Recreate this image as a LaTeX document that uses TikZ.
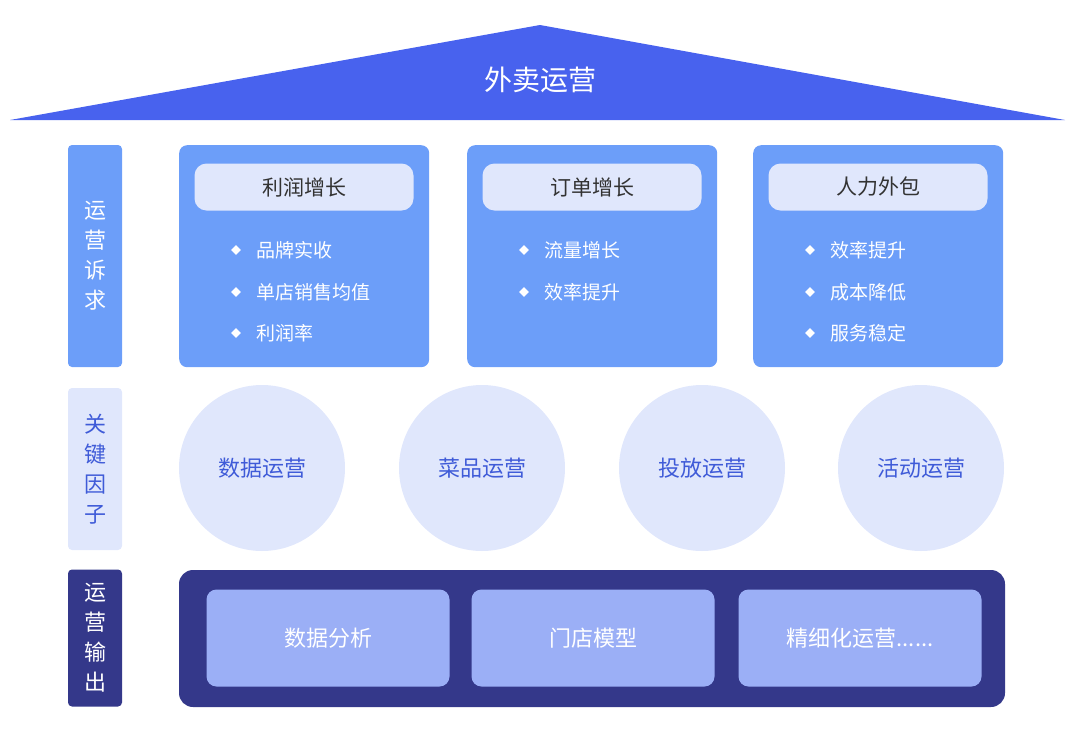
\documentclass[tikz,border=0pt]{standalone}
\usepackage{fontspec}
\setmainfont{Noto Sans CJK SC}
\usetikzlibrary{shapes.geometric}
\definecolor{roofblue}{HTML}{4862EE}
\definecolor{boxblue}{HTML}{6C9EF9}
\definecolor{paleblue}{HTML}{E0E7FC}
\definecolor{deepblue}{HTML}{34388A}
\definecolor{softblue}{HTML}{9BAFF6}
\definecolor{inkblue}{HTML}{3F5BD8}
\tikzset{
  side/.style={rounded corners=4pt, minimum width=54pt, inner sep=0pt, align=center, font=\fontsize{22}{30}\selectfont},
  goal/.style={fill=boxblue, rounded corners=8pt, minimum width=250pt, minimum height=222pt, anchor=north west},
  pill/.style={fill=paleblue, rounded corners=12pt, minimum width=219pt, minimum height=47pt, text=black!80, font=\fontsize{21}{24}\selectfont},
  item/.style={anchor=west, text=white, font=\fontsize{19}{22}\selectfont},
  dot/.style={diamond, fill=white, inner sep=0pt, minimum size=10pt},
  factor/.style={circle, fill=paleblue, minimum size=166pt, text=inkblue, font=\fontsize{22}{26}\selectfont},
  outbox/.style={fill=softblue, rounded corners=10pt, minimum width=243pt, minimum height=97pt, text=white, font=\fontsize{22}{26}\selectfont}
}
\begin{document}
\begin{tikzpicture}[x=1pt,y=-1pt]
\useasboundingbox (0,0) rectangle (1080,740);
% roof
\fill[roofblue] (10,120) -- (540,25) -- (1065,120) -- cycle;
\node[text=white, font=\fontsize{28}{32}\selectfont] (roof) at (540,80) {外卖运营};
% side labels
\node[side, fill=boxblue, text=white, minimum height=222pt] (needs) at (95,256) {运\\营\\诉\\求};
\node[side, fill=paleblue, text=inkblue, minimum height=162pt] (keys) at (95,469) {关\\键\\因\\子};
\node[side, fill=deepblue, text=white, minimum height=137pt] (outs) at (95,638) {运\\营\\输\\出};
% goals
\foreach \gx/\name/\title in {179/profit/利润增长, 467/order/订单增长, 753/labour/人力外包}{
  \node[goal] (\name) at (\gx,145) {};
  \node[pill] (\name-t) at (\gx+125,187) {\title};
}
\foreach \gx/\gy/\txt [count=\i] in {179/250/品牌实收, 179/292/单店销售均值, 179/333/利润率, 467/250/流量增长, 467/292/效率提升, 753/250/效率提升, 753/292/成本降低, 753/333/服务稳定}{
  \node[dot] (d\i) at (\gx+57,\gy) {};
  \node[item] (t\i) at (\gx+74,\gy) {\txt};
}
% factors
\foreach \cx/\txt [count=\i] in {262/数据运营, 482/菜品运营, 702/投放运营, 921/活动运营}
  \node[factor] (f\i) at (\cx,468) {\txt};
% output
\fill[deepblue, rounded corners=14pt] (179,570) rectangle (1005,707);
\node[outbox] (o1) at (328,638) {数据分析};
\node[outbox] (o2) at (593,638) {门店模型};
\node[outbox] (o3) at (860,638) {精细化运营......};
\end{tikzpicture}
\end{document}
